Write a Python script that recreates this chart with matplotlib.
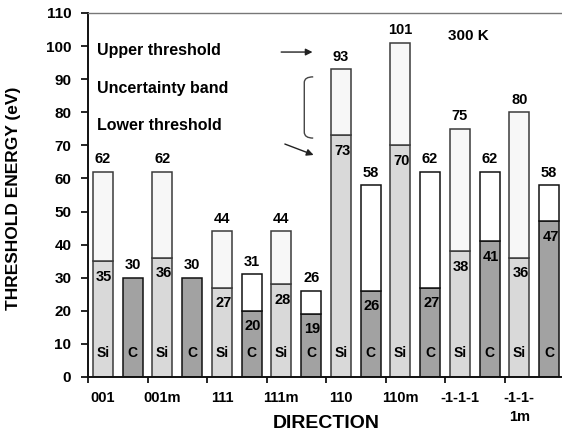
import numpy as np
import matplotlib.pyplot as plt
from matplotlib.path import Path
from matplotlib.patches import PathPatch

plt.rcParams['font.family'] = ['Liberation Sans', 'DejaVu Sans']
plt.rcParams['font.weight'] = 'bold'

# threshold energies (eV) per direction, Si and C sublattice
directions = ['001', '001m', '111', '111m', '110', '110m', '-1-1-1', '-1-1-\n1m']
si_lower = [35, 36, 27, 28, 73, 70, 38, 36]
si_upper = [62, 62, 44, 44, 93, 101, 75, 80]
c_lower = [30, 30, 20, 19, 26, 27, 41, 47]
c_upper = [None, None, 31, 26, 58, 62, 62, 58]

SI_LOW, SI_UP = '#d9d9d9', '#f7f7f7'
C_LOW, C_UP = '#a2a2a2', '#ffffff'
W = 0.67

fig = plt.figure(figsize=(5.62, 4.34), dpi=100)
ax = fig.add_axes([88 / 562, 57 / 434, 476 / 562, 364 / 434])


def draw_bar(x, lower, upper, low_col, up_col, edge, tag):
    ax.bar(x, lower, width=W, color=low_col, edgecolor=edge, linewidth=1.1, zorder=2)
    if upper is None:
        ax.annotate(str(lower), (x, lower), xytext=(0, 4), textcoords='offset points',
                    ha='center', va='bottom', fontsize=10.5)
    else:
        ax.bar(x, upper - lower, bottom=lower, width=W, color=up_col,
               edgecolor=edge, linewidth=1.1, zorder=2)
        ax.annotate(str(upper), (x, upper), xytext=(0, 4), textcoords='offset points',
                    ha='center', va='bottom', fontsize=10.5)
        ax.annotate(str(lower), (x, lower), xytext=(1, -6), textcoords='offset points',
                    ha='center', va='top', fontsize=10.5, zorder=3)
    ax.text(x, 7.3, tag, ha='center', va='center', fontsize=10, zorder=3)


for i in range(len(directions)):
    draw_bar(2 * i, si_lower[i], si_upper[i], SI_LOW, SI_UP, '#3a3a3a', 'Si')
    draw_bar(2 * i + 1, c_lower[i], c_upper[i], C_LOW, C_UP, '#111111', 'C')

ax.set_xlim(-0.5, 15.5)
ax.set_ylim(0, 110)
ax.set_yticks(np.arange(0, 111, 10))
ax.tick_params(axis='y', length=5, width=1.2, pad=7, labelsize=11)

# category boundaries every pair, labels under the Si bars
ax.set_xticks(np.arange(-0.5, 16, 2))
ax.set_xticklabels([])
ax.set_xticks(np.arange(0, 16, 2), minor=True)
ax.set_xticklabels(directions, minor=True, fontsize=10.5, va='top', ha='center',
                   multialignment='center', linespacing=1.5)
ax.tick_params(axis='x', which='major', length=4, width=1.2)
ax.tick_params(axis='x', which='minor', length=0, pad=10)

for side in ['left', 'bottom']:
    ax.spines[side].set_linewidth(1.4)
    ax.spines[side].set_color('#111111')
ax.spines['top'].set_color('#777777')
ax.spines['top'].set_linewidth(1.0)
ax.spines['right'].set_visible(False)

ax.set_ylabel('THRESHOLD ENERGY (eV)', fontsize=12.5, fontweight='bold')
ax.yaxis.set_label_coords(-0.141, 0.49)
fig.text(326 / 562, 1 - 424 / 434, 'DIRECTION', fontsize=14, fontweight='bold',
         ha='center', va='center')

# notes on the left
ax.text(-0.2, 98.8, 'Upper threshold', fontsize=11.5, va='center', ha='left')
ax.text(-0.2, 87.3, 'Uncertainty band', fontsize=11.5, va='center', ha='left')
ax.text(-0.2, 75.9, 'Lower threshold', fontsize=11.5, va='center', ha='left')
ax.annotate('', xy=(7.14, 98.2), xytext=(5.9, 98.2),
            arrowprops=dict(arrowstyle='-|>', color='#222222', lw=1.0, mutation_scale=10))
ax.annotate('', xy=(7.17, 66.8), xytext=(6.03, 70.7),
            arrowprops=dict(arrowstyle='-|>', color='#222222', lw=1.0, mutation_scale=10))

brace = Path([(7.07, 90.7), (6.77, 90.7), (6.77, 89.0), (6.77, 74.0),
              (6.77, 72.2), (7.07, 72.2)],
             [Path.MOVETO, Path.CURVE3, Path.CURVE3, Path.LINETO,
              Path.CURVE3, Path.CURVE3])
ax.add_patch(PathPatch(brace, fill=False, edgecolor='#444444', lw=1.0))

ax.text(12.28, 103.1, '300 K', fontsize=11, ha='center', va='center')

fig.savefig('out.png', dpi=100)
